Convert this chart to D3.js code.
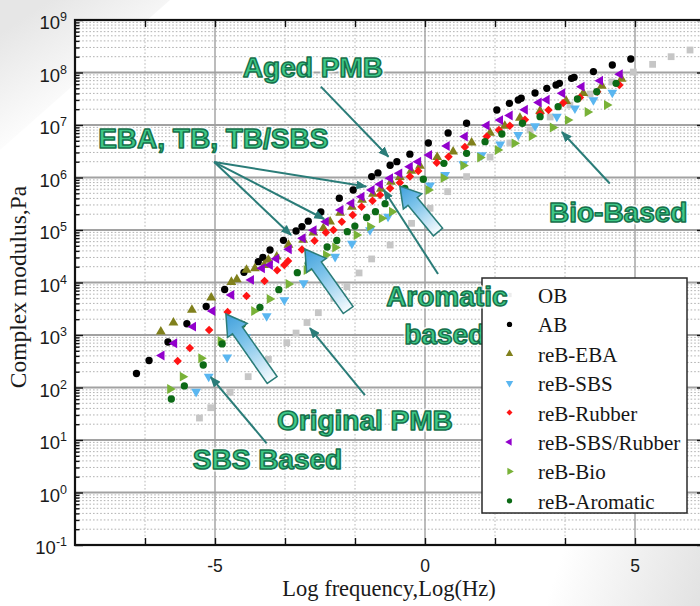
<!DOCTYPE html>
<html>
<head>
<meta charset="utf-8">
<script src="https://cdn.jsdelivr.net/npm/d3@7"></script>
<style>
  html, body { margin: 0; padding: 0; background: #ffffff; }
  svg { display: block; }
</style>
</head>
<body>
<svg id="chart" width="700" height="606"></svg>
<script>
// ---- Series: log frequency (log Hz) and complex modulus (Pa) ----
const seriesNames = ["OB", "AB", "reB-EBA", "reB-SBS", "reB-Rubber", "reB-SBS/Rubber", "reB-Bio", "reB-Aromatic"];

const obFreq = [-5.37, -5.10, -4.64, -4.21, -3.73, -3.29, -3.07, -2.81, -2.54, -2.17, -1.86, -1.57, -1.27, -0.83, -0.32, 0.12, 0.54, 0.99, 1.55, 2.02, 2.50, 2.98, 3.45, 3.93, 4.45, 4.96, 5.42, 5.86, 6.31];
const obModulus = [26.2, 41.2, 81.1, 161, 344, 713, 1090, 1730, 2660, 5000, 8320, 15200, 28100, 51800, 1.34e5, 2.59e5, 5.37e5, 1.04e6, 2.45e6, 4.54e6, 8.04e6, 1.42e7, 2.4e7, 3.89e7, 6.59e7, 1.02e8, 1.43e8, 2.0e8, 2.68e8];

const abFreq = [-6.87, -6.57, -6.12, -5.67, -5.21, -4.77, -4.31, -3.97, -3.86, -3.69, -3.37, -3.07, -2.93, -2.78, -2.48, -2.04, -1.71, -1.27, -1.12, -0.83, -0.67, -0.36, 0.08, 0.55, 0.99, 1.71, 2.01, 2.22, 2.29, 2.62, 2.90, 3.12, 3.20, 3.49, 3.55, 4.01, 4.46, 4.90];
const abModulus = [185, 327, 736, 1640, 3490, 7360, 15600, 24900, 30200, 41600, 63700, 95700, 1.16e5, 1.47e5, 2.2e5, 4.02e5, 5.78e5, 1.04e6, 1.22e6, 1.71e6, 2.0e6, 2.78e6, 4.54e6, 7.04e6, 1.08e7, 1.93e7, 2.59e7, 2.99e7, 3.23e7, 4.07e7, 5.0e7, 5.78e7, 6.22e7, 7.76e7, 8.1e7, 1.04e8, 1.39e8, 1.81e8];

const ebaFreq = [-6.29, -5.99, -5.55, -5.09, -4.61, -4.48, -4.25, -4.05, -3.83, -3.73, -3.53, -3.25, -2.90, -2.66, -2.42, -2.26, -2.02, -1.74, -1.50, -1.24, -1.05, -0.81, -0.60, -0.33, -0.12, 0.29, 0.67, 1.11, 1.55, 1.90, 2.26, 2.74, 3.36, 3.77, 4.21, 4.68];
const ebaModulus = [1156, 1714, 2990, 5130, 10200, 11400, 17300, 18600, 21500, 26800, 31000, 51800, 64600, 88900, 1.08e5, 1.44e5, 2.11e5, 2.74e5, 3.73e5, 4.85e5, 6.04e5, 8.2e5, 1.02e6, 1.33e6, 1.66e6, 2.45e6, 3.1e6, 4.6e6, 7.05e6, 9.57e6, 1.36e7, 1.85e7, 2.86e7, 4.02e7, 5.53e7, 7.52e7];

const sbsFreq = [-5.45, -5.15, -4.71, -4.26, -3.77, -3.35, -2.89, -2.52, -2.14, -1.74, -1.31, -0.88, -0.45, 0.12, 0.48, 0.91, 1.35, 1.79, 2.22, 2.62, 3.14, 3.57, 4.01, 4.46];
const sbsModulus = [83.2, 161, 376, 917, 2300, 4640, 9770, 17300, 31000, 55300, 1.0e5, 1.81e5, 3.27e5, 7.1e5, 1.12e6, 1.81e6, 2.68e6, 4.26e6, 6.46e6, 9.57e6, 1.44e7, 2.08e7, 2.99e7, 4.16e7];

const rubberFreq = [-5.89, -5.60, -5.14, -4.70, -4.25, -3.82, -3.52, -3.35, -3.26, -2.93, -2.63, -2.36, -2.18, -1.98, -1.72, -1.51, -1.25, -1.07, -0.83, -0.60, -0.36, -0.16, 0.28, 0.56, 0.95, 1.47, 1.76, 2.02, 2.38, 2.74, 2.94, 3.29, 3.69, 4.10, 4.63];
const rubberModulus = [320, 565, 1245, 2740, 5530, 10700, 17100, 21500, 25700, 42600, 62500, 89500, 1.0e5, 1.44e5, 1.93e5, 2.78e5, 3.61e5, 4.64e5, 6.22e5, 7.96e5, 1.04e6, 1.33e6, 1.91e6, 2.49e6, 3.81e6, 6.04e6, 8.04e6, 9.66e6, 1.26e7, 1.64e7, 1.93e7, 2.62e7, 3.34e7, 4.31e7, 5.78e7];

const sbsRubberFreq = [-6.27, -5.97, -5.52, -5.06, -4.61, -4.14, -3.88, -3.69, -3.54, -3.24, -2.91, -2.65, -2.36, -2.01, -1.75, -1.51, -1.27, -1.07, -0.83, -0.61, -0.36, -0.16, 0.10, 0.52, 0.95, 1.47, 1.79, 2.02, 2.38, 2.71, 2.90, 3.27, 3.73, 4.17, 4.64];
const sbsRubberModulus = [407, 695, 1440, 2860, 5780, 11200, 18600, 21500, 28300, 42900, 69500, 98700, 1.44e5, 2.4e5, 3.23e5, 4.31e5, 5.78e5, 7.41e5, 9.66e5, 1.2e6, 1.61e6, 2.0e6, 2.68e6, 3.98e6, 6.04e6, 9.77e6, 1.24e7, 1.52e7, 1.95e7, 2.68e7, 3.03e7, 4.02e7, 5.37e7, 6.98e7, 9.29e7];

const bioFreq = [-6.07, -5.77, -5.33, -4.87, -4.45, -4.07, -3.70, -3.25, -2.82, -2.36, -2.14, -1.63, -1.31, -1.03, -0.79, -0.38, 0.08, 0.44, 0.91, 1.31, 1.73, 2.13, 2.54, 3.04, 3.40, 3.87, 4.33];
const bioModulus = [93.5, 161, 360, 769, 1550, 2860, 4850, 9360, 17300, 33400, 46400, 80300, 1.16e5, 1.67e5, 2.23e5, 3.89e5, 5.78e5, 9.77e5, 1.69e6, 2.4e6, 3.34e6, 4.48e6, 6.17e6, 8.96e6, 1.24e7, 1.77e7, 2.4e7];

const aromaticFreq = [-6.04, -5.73, -5.28, -4.83, -4.35, -3.93, -3.48, -3.04, -2.78, -2.33, -2.10, -1.85, -1.67, -1.39, -1.18, -0.95, -0.48, -0.04, 0.45, 0.99, 1.43, 1.83, 2.32, 2.74, 3.17, 3.63, 4.09, 4.55];
const aromaticModulus = [60.4, 107, 268, 675, 1600, 3370, 7290, 15400, 23200, 47400, 63100, 92900, 1.19e5, 1.73e5, 2.23e5, 3.17e5, 6.22e5, 9.25e5, 1.86e6, 2.89e6, 4.81e6, 6.74e6, 1.08e7, 1.44e7, 2.23e7, 3.13e7, 4.31e7, 6.22e7];

// ---- Axis ticks ----
const xMajorTicks = [-5, 0, 5];
const xTickLabels = ["-5", "0", "5"];
const xMinorTicks = [-20 / 3, -10 / 3, -5 / 3, 5 / 3, 10 / 3];
const yExponents = [-1, 0, 1, 2, 3, 4, 5, 6, 7, 8, 9];
const yExponentLabels = ["-1", "0", "1", "2", "3", "4", "5", "6", "7", "8", "9"];

// ---- Call-out labels (position in data units: log Hz, Pa) ----
const calloutLabels = ["Aged PMB", "EBA, TB, TB/SBS", "Bio-Based", "based", "Original PMB", "SBS Based"];
const calloutFreq = [-2.67, -5.04, 4.60, 0.47, -1.43, -3.75];
const calloutModulus = [8.2e7, 3.65e6, 1.42e5, 674, 15.5, 2.8];
const topLabel = "Aromatic";
const topLabelFreq = 0.52;
const topLabelModulus = 3565;

// Pointer lines with arrow heads
const pointerFromFreq = [-2.48, -5.02, -5.02, -5.02, 4.40, 0.31, -1.43, -3.77];
const pointerFromModulus = [5.37e7, 1.97e6, 1.97e6, 1.97e6, 7.69e5, 1.45e4, 71.9, 8.65];
const pointerToFreq = [-0.87, -3.19, -2.40, -1.40, 3.26, -0.98, -2.74, -5.10];
const pointerToModulus = [2.49e6, 8.04e4, 1.62e5, 6.74e5, 7.36e6, 5.78e5, 1358, 158];

// Wide shaded arrows
const blockTipFreq = [-4.74, -2.86, -0.60];
const blockTipModulus = [2512, 43450, 6.88e5];
const blockTailFreq = [-3.64, -1.83, 0.31];
const blockTailModulus = [139, 2990, 9.16e4];

// ---- Styles ----
const seriesFreq = [obFreq, abFreq, ebaFreq, sbsFreq, rubberFreq, sbsRubberFreq, bioFreq, aromaticFreq];
const seriesModulus = [obModulus, abModulus, ebaModulus, sbsModulus, rubberModulus, sbsRubberModulus, bioModulus, aromaticModulus];
const seriesColors = ["#c6c6c6", "#000000", "#80801c", "#5ab6f0", "#ff1414", "#9200cc", "#79b238", "#0c6a16"];
const seriesShapes = ["square", "circle", "triUp", "triDown", "diamond", "triLeft", "triRight", "circle"];

const svg = d3.select("#chart");
const W = 700, H = 606;
const plotLeft = 75, plotTop = 20, plotRight = 705, plotBottom = 545;

const x = d3.scaleLinear().domain([-25 / 3, 20 / 3]).range([plotLeft, plotRight]);
const y = d3.scaleLog().domain([0.1, 1e9]).range([plotBottom, plotTop]);

const defs = svg.append("defs");
defs.append("clipPath").attr("id", "plotClip")
  .append("rect").attr("x", plotLeft).attr("y", plotTop)
  .attr("width", plotRight - plotLeft).attr("height", plotBottom - plotTop);

defs.append("marker").attr("id", "pointerHead")
  .attr("viewBox", "0 0 10 8").attr("refX", 9).attr("refY", 4)
  .attr("markerWidth", 11).attr("markerHeight", 9)
  .attr("markerUnits", "userSpaceOnUse").attr("orient", "auto")
  .append("path").attr("d", "M0,0 L10,4 L0,8 Z").attr("fill", "#2a7c78");

// Soft slide shading behind the figure (upper-left and lower-right corners)
const shadeTL = defs.append("linearGradient").attr("id", "shadeTL")
  .attr("gradientUnits", "userSpaceOnUse").attr("x1", 20).attr("y1", 20).attr("x2", 80).attr("y2", 110);
shadeTL.append("stop").attr("offset", 0).attr("stop-color", "#e6e6e6");
shadeTL.append("stop").attr("offset", 1).attr("stop-color", "#ffffff");
svg.append("path").attr("d", `M0,0 L170,0 L0,150 Z`).attr("fill", "url(#shadeTL)");
const shadeBR = defs.append("linearGradient").attr("id", "shadeBR")
  .attr("gradientUnits", "userSpaceOnUse").attr("x1", 560).attr("y1", 560).attr("x2", 700).attr("y2", 606);
shadeBR.append("stop").attr("offset", 0).attr("stop-color", "#ffffff");
shadeBR.append("stop").attr("offset", 1).attr("stop-color", "#e2e2e2");
svg.append("rect").attr("x", 520).attr("y", 546).attr("width", 180).attr("height", 60).attr("fill", "url(#shadeBR)");

// Plot background
svg.append("rect").attr("x", plotLeft).attr("y", plotTop)
  .attr("width", plotRight - plotLeft).attr("height", plotBottom - plotTop)
  .attr("fill", "#ffffff");

// ---- Grid ----
const grid = svg.append("g").attr("clip-path", "url(#plotClip)");
const minorY = [];
yExponents.slice(0, -1).forEach(e => {
  for (let m = 2; m <= 9; m++) minorY.push(m * Math.pow(10, e));
});
grid.selectAll("line.minorY").data(minorY).join("line")
  .attr("x1", plotLeft).attr("x2", plotRight)
  .attr("y1", d => y(d)).attr("y2", d => y(d))
  .attr("stroke", "#b2b2b2").attr("stroke-width", 1)
  .attr("stroke-dasharray", "1.6,2");
grid.selectAll("line.minorX").data(xMinorTicks).join("line")
  .attr("x1", d => x(d)).attr("x2", d => x(d))
  .attr("y1", plotTop).attr("y2", plotBottom)
  .attr("stroke", "#b8b8b8").attr("stroke-width", 1)
  .attr("stroke-dasharray", "1.6,2");
grid.selectAll("line.majorY").data(yExponents.map(e => Math.pow(10, e))).join("line")
  .attr("x1", plotLeft).attr("x2", plotRight)
  .attr("y1", d => y(d)).attr("y2", d => y(d))
  .attr("stroke", "#a2a2a2").attr("stroke-width", 1.8);
grid.selectAll("line.majorX").data(xMajorTicks).join("line")
  .attr("x1", d => x(d)).attr("x2", d => x(d))
  .attr("y1", plotTop).attr("y2", plotBottom)
  .attr("stroke", "#a0a0a0").attr("stroke-width", 1.4);

// ---- Markers ----
function symbolPath(shape, size) {
  if (shape === "circle") return d3.symbol(d3.symbolCircle, size)();
  if (shape === "square" || shape === "diamond") return d3.symbol(d3.symbolSquare, size)();
  return d3.symbol(d3.symbolTriangle, size)();
}
const shapeRotation = { circle: 0, square: 0, diamond: 45, triUp: 0, triDown: 180, triLeft: -90, triRight: 90 };
const shapeSize = { circle: 42, square: 46, diamond: 36, triUp: 42, triDown: 42, triLeft: 42, triRight: 42 };

const points = svg.append("g").attr("clip-path", "url(#plotClip)");
seriesNames.forEach((name, s) => {
  const shape = seriesShapes[s];
  points.append("g").attr("class", "series")
    .selectAll("path").data(d3.range(seriesFreq[s].length)).join("path")
    .attr("d", symbolPath(shape, shapeSize[shape]))
    .attr("transform", i => `translate(${x(seriesFreq[s][i])},${y(seriesModulus[s][i])}) rotate(${shapeRotation[shape]})`)
    .attr("fill", seriesColors[s]);
});

// ---- Axes (ticks pointing into the plot) ----
const yMajorVals = yExponents.map(e => Math.pow(10, e));
svg.append("g").attr("transform", `translate(${plotLeft},0)`)
  .call(d3.axisLeft(y).tickValues(yMajorVals).tickSize(-8).tickFormat(""))
  .call(g => g.select(".domain").remove());
svg.append("g").attr("transform", `translate(${plotLeft},0)`)
  .call(d3.axisLeft(y).tickValues(minorY).tickSize(-4.5).tickFormat(""))
  .call(g => g.select(".domain").remove());
svg.append("g").attr("transform", `translate(${plotRight},0)`)
  .call(d3.axisRight(y).tickValues(yMajorVals).tickSize(-8).tickFormat(""))
  .call(g => g.select(".domain").remove());
svg.append("g").attr("transform", `translate(${plotRight},0)`)
  .call(d3.axisRight(y).tickValues(minorY).tickSize(-4.5).tickFormat(""))
  .call(g => g.select(".domain").remove());
svg.append("g").attr("transform", `translate(0,${plotBottom})`)
  .call(d3.axisBottom(x).tickValues(xMajorTicks.concat(xMinorTicks)).tickSize(-7).tickFormat(""))
  .call(g => g.select(".domain").remove());
svg.append("g").attr("transform", `translate(0,${plotTop})`)
  .call(d3.axisTop(x).tickValues(xMajorTicks.concat(xMinorTicks)).tickSize(-7).tickFormat(""))
  .call(g => g.select(".domain").remove());
svg.selectAll(".tick line").attr("stroke", "#111").attr("stroke-width", 1.4);

// Frame
svg.append("rect").attr("x", plotLeft).attr("y", plotTop)
  .attr("width", plotRight - plotLeft).attr("height", plotBottom - plotTop)
  .attr("fill", "none").attr("stroke", "#111").attr("stroke-width", 2.2);

// Tick labels
const tickFont = "'Liberation Sans', Arial, sans-serif";
yExponents.forEach((e, i) => {
  const t = svg.append("text")
    .attr("x", plotLeft - 8).attr("y", y(Math.pow(10, e)) + 9)
    .attr("text-anchor", "end").attr("font-family", tickFont)
    .attr("font-size", 18.5).attr("fill", "#1a1a1a");
  t.append("tspan").text("10");
  t.append("tspan").attr("dy", -8).attr("font-size", 12.5).text(yExponentLabels[i]);
});
svg.selectAll("text.xtick").data(xMajorTicks).join("text")
  .attr("x", d => x(d)).attr("y", plotBottom + 26.5)
  .attr("text-anchor", "middle").attr("font-family", tickFont)
  .attr("font-size", 17.5).attr("fill", "#1a1a1a")
  .text((d, i) => xTickLabels[i]);

// Axis titles
const serif = "'Liberation Serif', 'Times New Roman', serif";
svg.append("text").attr("x", (plotLeft + plotRight) / 2 - 1).attr("y", 596)
  .attr("text-anchor", "middle").attr("font-family", serif)
  .attr("font-size", 22.5).attr("fill", "#1a1a1a")
  .text("Log frequency,Log(Hz)");
svg.append("text").attr("transform", `translate(26,287) rotate(-90)`)
  .attr("text-anchor", "middle").attr("font-family", serif)
  .attr("font-size", 23.5).attr("fill", "#1a1a1a")
  .text("Complex modulus,Pa");

// ---- Pointer lines ----
const pointers = svg.append("g");
pointerFromFreq.forEach((f, i) => {
  pointers.append("line")
    .attr("x1", x(f)).attr("y1", y(pointerFromModulus[i]))
    .attr("x2", x(pointerToFreq[i])).attr("y2", y(pointerToModulus[i]))
    .attr("stroke", "#2a7c78").attr("stroke-width", 2)
    .attr("marker-end", "url(#pointerHead)");
});

// ---- Wide shaded arrows ----
const blocks = svg.append("g");
blockTipFreq.forEach((f, i) => {
  const tx = x(f), ty = y(blockTipModulus[i]);
  const bx = x(blockTailFreq[i]), by = y(blockTailModulus[i]);
  const len = Math.hypot(tx - bx, ty - by);
  const ux = (tx - bx) / len, uy = (ty - by) / len;
  const nx = -uy, ny = ux;
  const shaft = 6, head = 12, headLen = 20;
  const hx = tx - ux * headLen, hy = ty - uy * headLen;
  const pts = [
    [bx + nx * shaft, by + ny * shaft],
    [hx + nx * shaft, hy + ny * shaft],
    [hx + nx * head, hy + ny * head],
    [tx, ty],
    [hx - nx * head, hy - ny * head],
    [hx - nx * shaft, hy - ny * shaft],
    [bx - nx * shaft, by - ny * shaft]
  ];
  const gid = "blockGrad" + i;
  const grad = defs.append("linearGradient").attr("id", gid)
    .attr("gradientUnits", "userSpaceOnUse")
    .attr("x1", tx).attr("y1", ty).attr("x2", bx).attr("y2", by);
  grad.append("stop").attr("offset", 0).attr("stop-color", "#3f9fdc");
  grad.append("stop").attr("offset", 0.4).attr("stop-color", "#7cc3ea");
  grad.append("stop").attr("offset", 1).attr("stop-color", "#f6fbfe");
  blocks.append("path")
    .attr("d", "M" + pts.map(p => p.join(",")).join("L") + "Z")
    .attr("fill", `url(#${gid})`).attr("stroke", "#2a7c78").attr("stroke-width", 1.5)
    .attr("stroke-linejoin", "miter");
});

// ---- Call-out text ----
const calloutFont = "'Liberation Sans', Arial, sans-serif";
function callout(parent, label, f, m) {
  const g = parent.append("g");
  g.append("text").attr("x", x(f)).attr("y", y(m))
    .attr("text-anchor", "middle").attr("font-family", calloutFont)
    .attr("font-weight", "bold").attr("font-size", 28)
    .attr("fill", "none").attr("stroke", "rgba(255,255,255,0.75)").attr("stroke-width", 5)
    .attr("stroke-linejoin", "round").text(label);
  g.append("text").attr("x", x(f)).attr("y", y(m))
    .attr("text-anchor", "middle").attr("font-family", calloutFont)
    .attr("font-weight", "bold").attr("font-size", 28)
    .attr("fill", "#3ec986").attr("stroke", "#16704b").attr("stroke-width", 1.5)
    .attr("stroke-linejoin", "round").text(label);
}
const callouts = svg.append("g");
calloutLabels.forEach((label, i) => callout(callouts, label, calloutFreq[i], calloutModulus[i]));

// ---- Legend ----
const legend = svg.append("g");
legend.append("rect").attr("x", 482).attr("y", 278).attr("width", 205).attr("height", 235)
  .attr("fill", "#ffffff").attr("stroke", "#2a2a2a").attr("stroke-width", 1.5);
const legendShapeSize = { circle: 22, square: 18, diamond: 18, triUp: 24, triDown: 24, triLeft: 24, triRight: 24 };
seriesNames.forEach((name, s) => {
  const cy = 295 + s * 29.4;
  const shape = seriesShapes[s];
  legend.append("path")
    .attr("d", symbolPath(shape, legendShapeSize[shape]))
    .attr("transform", `translate(509.5,${cy}) rotate(${shapeRotation[shape]})`)
    .attr("fill", s === 0 ? "#ececec" : seriesColors[s]);
  legend.append("text").attr("x", 538).attr("y", cy + 8)
    .attr("font-family", serif).attr("font-size", 21).attr("fill", "#161616")
    .text(name);
});

// Label drawn over the legend frame
callout(svg, topLabel, topLabelFreq, topLabelModulus);
</script>
</body>
</html>
